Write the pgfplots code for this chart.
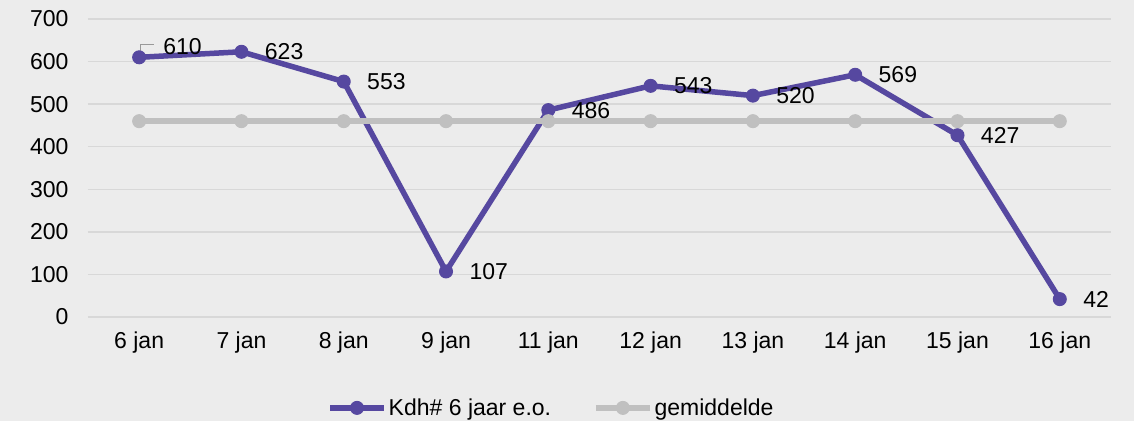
\documentclass[border=0pt]{standalone}
\usepackage{fontspec}
\setmainfont{Liberation Sans}
\usepackage{pgfplots}
\pgfplotsset{compat=1.18}
\definecolor{kdh}{RGB}{86,72,160}
\definecolor{avg}{RGB}{192,192,192}
\definecolor{bgc}{RGB}{236,236,236}
\definecolor{gridc}{RGB}{216,216,216}
\newcommand{\fs}{\fontsize{23bp}{27bp}\selectfont}
\begin{document}
\begin{tikzpicture}
\fill[bgc] (-88bp,-104bp) rectangle (1046bp,317bp);
\useasboundingbox (-88bp,-104bp) rectangle (1046bp,317bp);
\begin{axis}[
  at={(0,0)}, anchor=south west,
  scale only axis, width=1023bp, height=298bp,
  xmin=-0.5, xmax=9.5, ymin=0, ymax=700,
  xtick={0,...,9},
  xticklabels={6 jan,7 jan,8 jan,9 jan,11 jan,12 jan,13 jan,14 jan,15 jan,16 jan},
  ytick={0,100,...,700},
  ymajorgrids, grid style={gridc, line width=1.5bp},
  axis line style={draw=none}, major tick length=0pt,
  /pgf/number format/assume math mode=true,
  tick label style={font=\fs, text=black},
  yticklabel style={xshift=-16bp},
  xticklabel style={yshift=-11bp},
  legend style={at={(0.453,-0.305)}, anchor=center, draw=none, fill=none,
    font=\fs, /tikz/every even column/.append style={column sep=40bp}},
  legend columns=2,
  legend cell align=left,
  legend image code/.code={\draw[#1,mark repeat=2,mark phase=2] plot coordinates {(0bp,0bp) (27bp,0bp) (54bp,0bp)};},
  clip=false,
]
\addplot[kdh, line width=5.5bp, mark=*, mark size=6.5bp,
  mark options={solid, fill=kdh, draw=kdh, line width=1bp},
  nodes near coords, point meta=explicit symbolic,
  every node near coord/.style={anchor=west, xshift=23bp, inner sep=0pt, font=\fs, text=black}]
  coordinates {(0,610) [{}] (1,623) [623] (2,553) [553] (3,107) [107] (4,486) [486]
               (5,543) [543] (6,520) [520] (7,569) [569] (8,427) [427] (9,42) [42]};
\addlegendentry{Kdh\# 6 jaar e.o.}
\addplot[avg, line width=5.5bp, mark=*, mark size=6.5bp,
  mark options={solid, fill=avg, draw=avg, line width=1bp}]
  coordinates {(0,460) (1,460) (2,460) (3,460) (4,460) (5,460) (6,460) (7,460) (8,460) (9,460)};
\addlegendentry{gemiddelde}
\draw[gray!80, line width=1bp] ([xshift=1bp,yshift=3bp]axis cs:0,610) -- ([xshift=1bp,yshift=13bp]axis cs:0,610) -- ([xshift=15bp,yshift=13bp]axis cs:0,610);
\node[anchor=west, inner sep=0pt, font=\fs] at ([xshift=24bp,yshift=11bp]axis cs:0,610) {610};
\end{axis}
\end{tikzpicture}
\end{document}
